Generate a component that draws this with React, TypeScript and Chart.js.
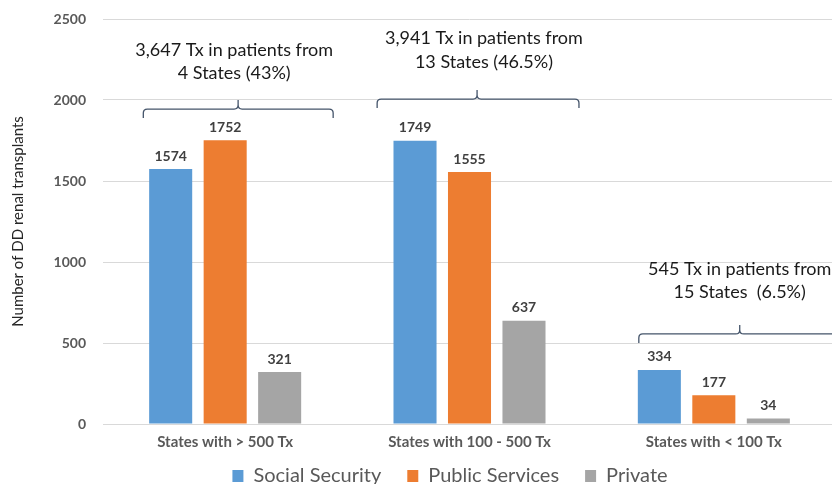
import React, { useEffect, useRef } from "react";
import { Chart, registerables } from "chart.js";

Chart.register(...registerables);

// Deceased-donor renal transplants by state group and payer
const categories = ["States with > 500 Tx", "States with 100 - 500 Tx", "States with < 100 Tx"];
const seriesNames = ["Social Security", "Public Services", "Private"];
const socialSecurity = [1574, 1749, 334];
const publicServices = [1752, 1555, 177];
const privateSector = [321, 637, 34];
const seriesColors = ["#5B9BD5", "#ED7D31", "#A5A5A5"];
const yTicks = [0, 500, 1000, 1500, 2000, 2500];

// Group summaries: text lines, and brace placement in category/value units
const groupNotes = [
  ["3,647 Tx in patients from", "4 States (43%)"],
  ["3,941 Tx in patients from", "13 States (46.5%)"],
  ["545 Tx in patients from", "15 States  (6.5%)"],
];
const noteCenterOffset = [0.037, 0.059, 0.106];
const noteLineValues = [
  [2309, 2167],
  [2383, 2235],
  [957, 815],
];
const braceLeft = [-0.335, -0.378, -0.307];
const braceRight = [0.442, 0.448, 0.7];
const braceTip = [0.053, 0.031, 0.106];
const braceValue = [1944, 2006, 556];

const FONT = "Lato, 'Open Sans', sans-serif";
const LEGEND_SHIFT_X = 32;
const LEGEND_SHIFT_Y = -14;

// Moves the bottom legend a little right of centre and closer to the axis
const legendShiftPlugin = {
  id: "legendShift",
  afterLayout(chart: any) {
    const lg = chart.legend;
    if (!lg) return;
    lg.left += LEGEND_SHIFT_X;
    lg.right += LEGEND_SHIFT_X;
    lg.top += LEGEND_SHIFT_Y;
    lg.bottom += LEGEND_SHIFT_Y;
  },
};

const annotationsPlugin = {
  id: "groupAnnotations",
  afterDatasetsDraw(chart: any) {
    const ctx = chart.ctx;
    const x = chart.scales.x;
    const y = chart.scales.y;
    const catW = x.getPixelForValue(1) - x.getPixelForValue(0);

    // value labels above every bar
    ctx.save();
    ctx.font = `bold 14px ${FONT}`;
    ctx.fillStyle = "#404040";
    ctx.textAlign = "center";
    ctx.textBaseline = "bottom";
    chart.data.datasets.forEach((ds: any, di: number) => {
      const meta = chart.getDatasetMeta(di);
      meta.data.forEach((bar: any, i: number) => {
        ctx.fillText(String(ds.data[i]), bar.x, bar.y - 6);
      });
    });
    ctx.restore();

    // braces and summary text
    ctx.save();
    categories.forEach((_, i) => {
      const cx = x.getPixelForValue(i);
      const x1 = cx + braceLeft[i] * catW;
      const x2 = cx + braceRight[i] * catW;
      const xt = cx + braceTip[i] * catW;
      const by = y.getPixelForValue(braceValue[i]);
      const r = 4;
      const drop = 9;
      ctx.strokeStyle = "#44546A";
      ctx.lineWidth = 1.3;
      ctx.beginPath();
      ctx.moveTo(x1, by + drop);
      ctx.lineTo(x1, by + r);
      ctx.quadraticCurveTo(x1, by, x1 + r, by);
      ctx.lineTo(xt - r, by);
      ctx.quadraticCurveTo(xt, by, xt, by - r);
      ctx.lineTo(xt, by - drop);
      ctx.moveTo(xt, by - r);
      ctx.quadraticCurveTo(xt, by, xt + r, by);
      ctx.lineTo(x2 - r, by);
      ctx.quadraticCurveTo(x2, by, x2, by + r);
      ctx.lineTo(x2, by + drop);
      ctx.stroke();

      ctx.font = `18px ${FONT}`;
      ctx.fillStyle = "#1A1A1A";
      ctx.textAlign = "center";
      ctx.textBaseline = "middle";
      const tx = cx + noteCenterOffset[i] * catW;
      groupNotes[i].forEach((line, li) => {
        ctx.fillText(line, tx, y.getPixelForValue(noteLineValues[i][li]));
      });
    });
    ctx.restore();
  },
};

export default function App() {
  const ref = useRef<HTMLCanvasElement>(null);

  useEffect(() => {
    if (!ref.current) return;
    const values = [socialSecurity, publicServices, privateSector];
    const chart = new Chart(ref.current, {
      type: "bar",
      data: {
        labels: categories,
        datasets: seriesNames.map((name, i) => ({
          label: name,
          data: values[i],
          backgroundColor: seriesColors[i],
          borderWidth: 0,
          barPercentage: 0.79,
          categoryPercentage: 0.669,
        })),
      },
      options: {
        responsive: false,
        animation: false,
        maintainAspectRatio: false,
        layout: { padding: { top: 19, right: 2, left: 0, bottom: 0 } },
        plugins: {
          tooltip: { enabled: false },
          legend: {
            position: "bottom",
            labels: {
              boxWidth: 11,
              boxHeight: 12,
              padding: 26,
              color: "#595959",
              font: { family: FONT, size: 20 },
            },
          },
        },
        scales: {
          x: {
            grid: { display: false, drawTicks: false },
            border: { color: "#D9D9D9", width: 1 },
            ticks: {
              color: "#595959",
              padding: 9,
              font: { family: FONT, size: 15, weight: "bold" },
            },
            afterFit: (s: any) => {
              s.height = 30;
            },
          },
          y: {
            min: 0,
            max: 2500,
            afterBuildTicks: (s: any) => {
              s.ticks = yTicks.map((v) => ({ value: v }));
            },
            grid: { color: "#D9D9D9", drawTicks: true, tickLength: 17, tickColor: "rgba(0,0,0,0)" },
            border: { display: false },
            ticks: {
              color: "#595959",
              padding: 0,
              font: { family: FONT, size: 14, weight: "bold" },
              callback: (v: any) => String(v),
            },
            title: {
              display: true,
              text: "Number of DD renal transplants",
              color: "#262626",
              padding: { top: 9, bottom: 0 },
              font: { family: FONT, size: 15 },
            },
            afterFit: (s: any) => {
              s.width = 103;
            },
          },
        },
      },
      plugins: [annotationsPlugin, legendShiftPlugin],
    });
    return () => chart.destroy();
  }, []);

  return (
    <div style={{ position: "fixed", left: 0, top: 0, width: 838, height: 510, background: "#fff" }}>
      <canvas ref={ref} width={838} height={510} />
    </div>
  );
}
